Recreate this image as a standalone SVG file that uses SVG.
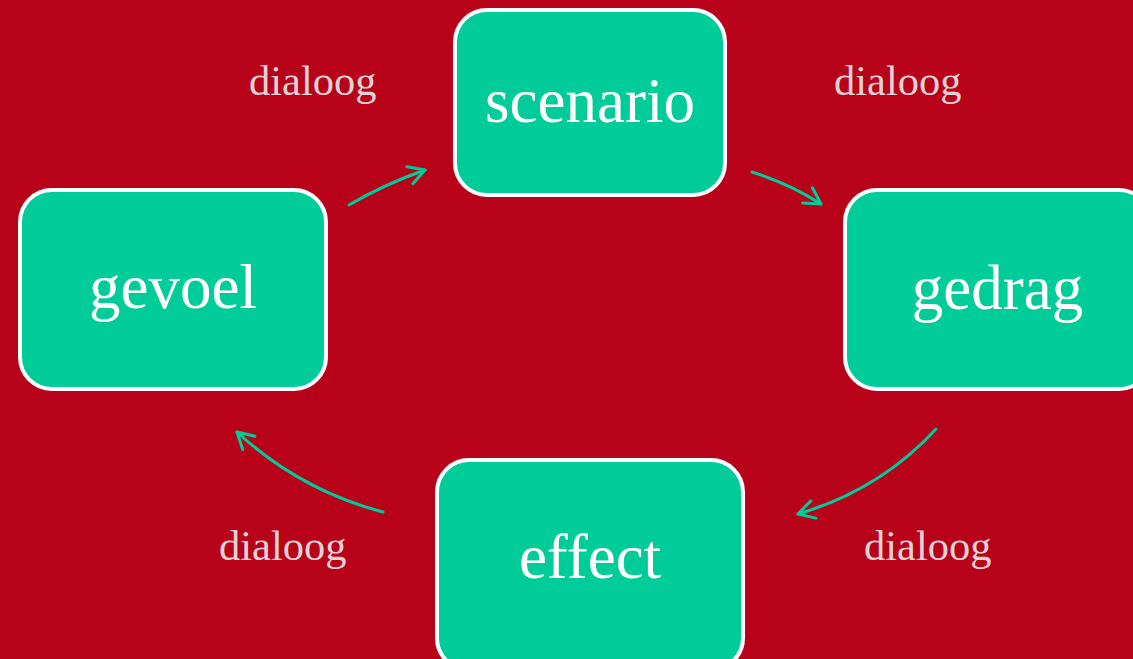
<svg xmlns="http://www.w3.org/2000/svg" width="1133" height="659" viewBox="0 0 1133 659">
<defs>
<style>
.node rect{fill:#00CC99;stroke:#FFFFFF;stroke-width:4}
.node text{font-family:"Liberation Serif","Times New Roman",serif;font-size:63px;fill:#FFFFFF;text-anchor:middle}
.lbl{font-family:"Liberation Serif","Times New Roman",serif;font-size:42.5px;fill:#E3D3D6}
.conn path{fill:none;stroke:#00CC99;stroke-width:3;stroke-linecap:round}
</style>
<marker id="ah" markerWidth="28" markerHeight="28" refX="22" refY="14" orient="auto" markerUnits="userSpaceOnUse" viewBox="0 0 28 28">
<path d="M6,5 L22,14 L6,23" fill="none" stroke="#00CC99" stroke-width="3" stroke-linecap="round" stroke-linejoin="round"/>
</marker>
</defs>
<rect x="0" y="0" width="1133" height="659" fill="#B8021A"/>
<g id="scenario" class="node"><rect x="455" y="10" width="270" height="185" rx="32"/><text x="590" y="122">scenario</text></g>
<g id="gedrag" class="node"><rect x="845" y="190" width="306" height="199" rx="32"/><text x="997.5" y="309">gedrag</text></g>
<g id="effect" class="node"><rect x="437" y="460" width="306" height="210" rx="32"/><text x="590" y="578">effect</text></g>
<g id="gevoel" class="node"><rect x="20" y="190" width="306" height="199" rx="32"/><text x="173" y="308">gevoel</text></g>
<g id="connectors" class="conn">
<path d="M349,205 Q385,184 425,170" marker-end="url(#ah)"/>
<path d="M752,172 Q790,184 821,204" marker-end="url(#ah)"/>
<path d="M936,429 Q880,490 798,514" marker-end="url(#ah)"/>
<path d="M383,512 Q300,490 237,432" marker-end="url(#ah)"/>
</g>
<g id="labels">
<text class="lbl" x="249" y="95">dialoog</text>
<text class="lbl" x="834" y="95">dialoog</text>
<text class="lbl" x="219" y="560">dialoog</text>
<text class="lbl" x="864" y="560">dialoog</text>
</g>
</svg>
